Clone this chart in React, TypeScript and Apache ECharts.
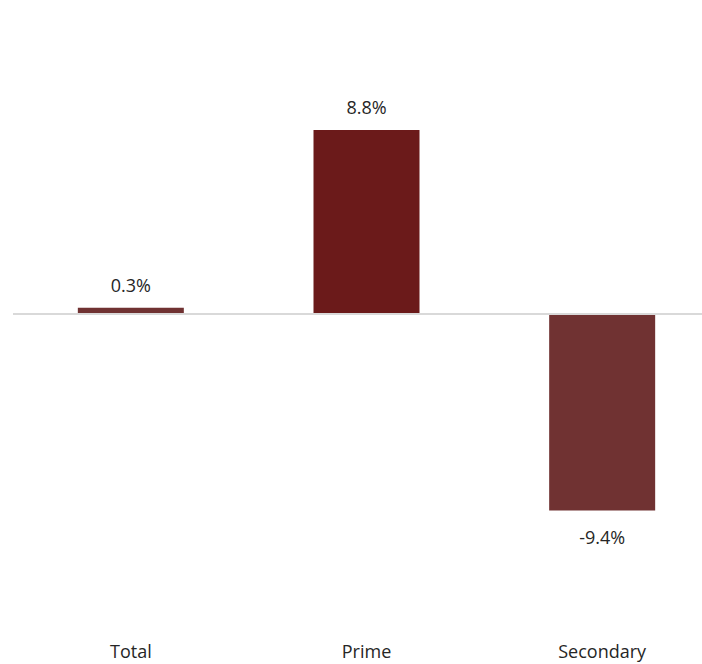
import React, { useEffect, useRef } from "react";
import * as echarts from "echarts";

const categories = ["Total", "Prime", "Secondary"];
const values = [0.3, 8.8, -9.4];
const barColors = ["#703232", "#6B1A1A", "#703232"];

const FONT = "'Open Sans', sans-serif";

export default function App() {
  const ref = useRef<HTMLDivElement>(null);
  useEffect(() => {
    document.body.style.margin = "0";
    document.body.style.overflow = "hidden";
    const chart = echarts.init(ref.current!, null, { renderer: "svg" });
    chart.setOption({
      animation: false,
      backgroundColor: "#ffffff",
      grid: { left: 13, right: 0, top: 63, bottom: 99, containLabel: false },
      xAxis: {
        type: "category",
        data: categories,
        axisLine: { show: false },
        axisTick: { show: false },
        axisLabel: {
          margin: 77,
          color: "#262626",
          fontSize: 18,
          lineHeight: 18,
          fontFamily: FONT,
        },
      },
      yAxis: {
        type: "value",
        min: -12,
        max: 12,
        show: false,
        splitLine: { show: false },
      },
      series: [
        {
          type: "bar",
          barWidth: 106,
          data: values.map((v, i) => ({
            value: v,
            itemStyle: { color: barColors[i] },
            label: { distance: v < 0 ? 17 : 14 },
          })),
          label: {
            show: true,
            position: "outside",
            color: "#262626",
            fontSize: 18,
            fontFamily: FONT,
            formatter: (p: any) => p.value.toFixed(1) + "%",
          },
          markLine: {
            silent: true,
            symbol: "none",
            label: { show: false },
            lineStyle: { color: "#D9D9D9", width: 2, type: "solid" },
            data: [{ yAxis: 0 }],
          },
        },
      ],
    });
    return () => chart.dispose();
  }, []);
  return (
    <div
      ref={ref}
      style={{ position: "absolute", left: 0, top: 0, width: 720, height: 664 }}
    />
  );
}
